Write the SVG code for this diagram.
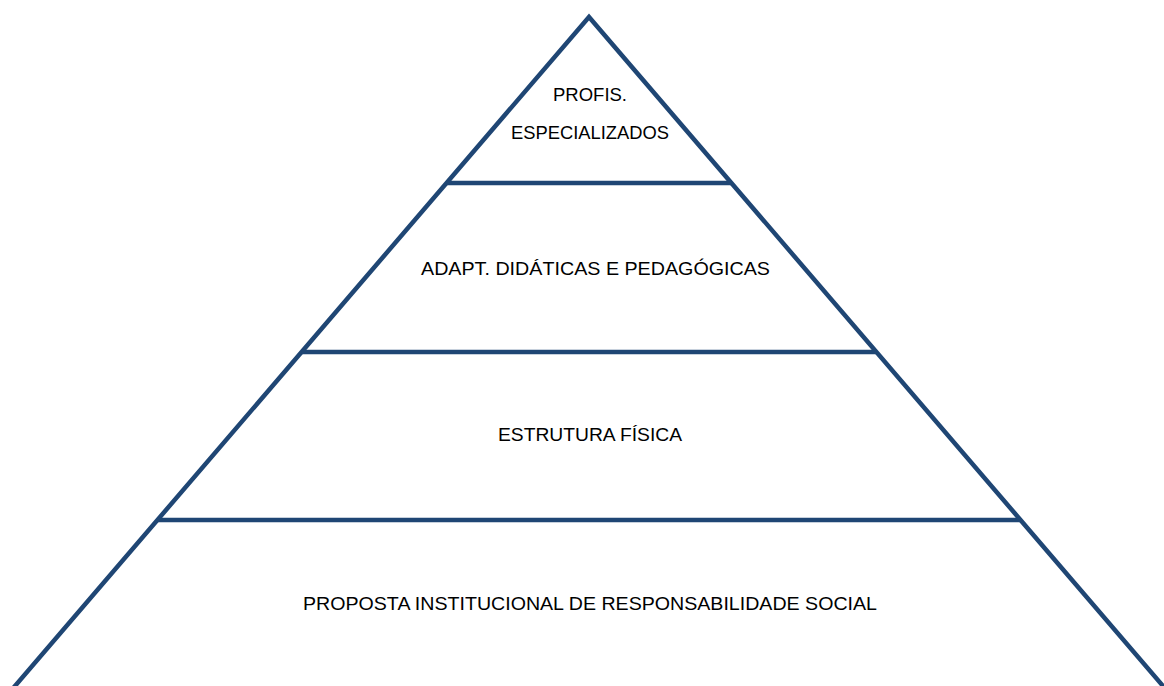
<svg xmlns="http://www.w3.org/2000/svg" width="1164" height="686" viewBox="0 0 1164 686">
<style>
.ln{stroke:#1F4674;stroke-width:4.5;fill:none;stroke-linejoin:miter}
.t{font-family:"Liberation Sans",Arial,sans-serif;font-size:18.5px;fill:#000}
</style>
<rect width="1164" height="686" fill="#fff"/>
<g id="connectors">
<polyline class="ln" points="9,693 589,17 1169,693"/>
<line class="ln" x1="446.6" y1="183" x2="731.4" y2="183"/>
<line class="ln" x1="301.6" y1="352" x2="876.4" y2="352"/>
<line class="ln" x1="157.4" y1="520" x2="1020.6" y2="520"/>
</g>
<g id="level1">
<text class="t" x="553" y="101" textLength="74" lengthAdjust="spacingAndGlyphs">PROFIS.</text>
<text class="t" x="511" y="139" textLength="158" lengthAdjust="spacingAndGlyphs">ESPECIALIZADOS</text>
</g>
<g id="level2">
<text class="t" x="421" y="275" textLength="349" lengthAdjust="spacingAndGlyphs">ADAPT. DIDÁTICAS E PEDAGÓGICAS</text>
</g>
<g id="level3">
<text class="t" x="498" y="441" textLength="184" lengthAdjust="spacingAndGlyphs">ESTRUTURA FÍSICA</text>
</g>
<g id="level4">
<text class="t" x="303" y="610" textLength="574" lengthAdjust="spacingAndGlyphs">PROPOSTA INSTITUCIONAL DE RESPONSABILIDADE SOCIAL</text>
</g>
</svg>
